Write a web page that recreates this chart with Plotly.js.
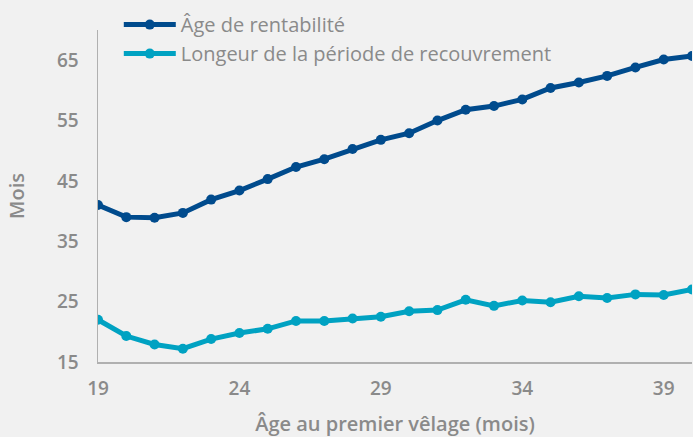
<!DOCTYPE html>
<html>
<head>
<meta charset="utf-8">
<script src="https://cdn.plot.ly/plotly-3.0.1.min.js"></script>
<style>html,body{margin:0;padding:0;background:#f1f1f1;}#chart{width:693px;height:437px;}</style>
</head>
<body>
<div id="chart"></div>
<script>
const ages = [19,20,21,22,23,24,25,26,27,28,29,30,31,32,33,34,35,36,37,38,39,40];
const ageRentabilite = [41.0,39.0,38.9,39.7,41.9,43.4,45.3,47.3,48.6,50.3,51.8,52.9,55.0,56.8,57.4,58.5,60.4,61.3,62.4,63.8,65.1,65.7];
const longueurRecouvrement = [22.0,19.3,17.9,17.2,18.8,19.8,20.5,21.8,21.8,22.2,22.5,23.4,23.6,25.3,24.3,25.2,24.9,25.9,25.6,26.2,26.1,27.0];
const seriesNames = ["Âge de rentabilité","Longeur de la période de recouvrement"];
const xTicks = [19,24,29,34,39];
const yTicks = [15,25,35,45,55,65];

const gray = "#8a8a8a";
const fam = "'Open Sans', Lato, sans-serif";
const traces = [
  {x: ages, y: ageRentabilite, name: seriesNames[0], type: "scatter", mode: "lines+markers",
   line: {color: "#004b8d", width: 5}, marker: {color: "#004b8d", size: 10}},
  {x: ages, y: longueurRecouvrement, name: seriesNames[1], type: "scatter", mode: "lines+markers",
   line: {color: "#00a2c2", width: 5}, marker: {color: "#00a2c2", size: 10}}
];
const layout = {
  width: 693, height: 437,
  paper_bgcolor: "#f1f1f1", plot_bgcolor: "#f1f1f1",
  margin: {l: 98, r: 1, t: 30, b: 75},
  font: {family: fam, color: gray},
  showlegend: true,
  legend: {x: 0.035, xanchor: "left", y: 1.075, yanchor: "top", bgcolor: "rgba(0,0,0,0)",
           itemwidth: 52, font: {size: 20, color: gray, family: fam}, tracegroupgap: 0},
  xaxis: {range: [19, 40], tickvals: xTicks, ticktext: xTicks.map(String),
          showgrid: false, zeroline: false, showline: true, linecolor: "#b0b0b0", linewidth: 1.5,
          ticks: "", ticklabelstandoff: 9,
          tickfont: {size: 19, color: gray, weight: 600, family: fam},
          title: {text: "Âge au premier vêlage (mois)", font: {size: 20, color: gray, weight: 600, family: fam}, standoff: 22}},
  yaxis: {range: [15, 70], tickvals: yTicks, ticktext: yTicks.map(String),
          showgrid: false, zeroline: false, showline: true, linecolor: "#b0b0b0", linewidth: 1.5,
          ticks: "", ticklabelstandoff: 14,
          tickfont: {size: 19, color: gray, weight: 600, family: fam},
          title: {text: "Mois", font: {size: 20, color: gray, weight: 600, family: fam}, standoff: 27}}
};
Plotly.newPlot("chart", traces, layout, {displayModeBar: false, staticPlot: true});
</script>
</body>
</html>
